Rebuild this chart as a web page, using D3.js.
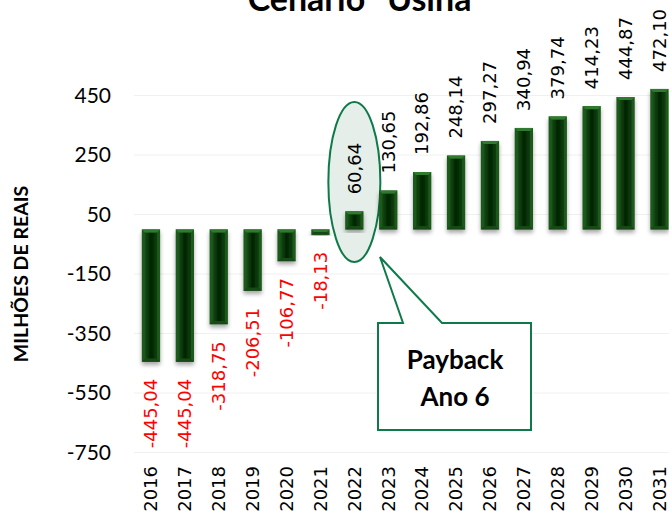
<!DOCTYPE html>
<html>
<head>
<meta charset="utf-8">
<script src="https://cdn.jsdelivr.net/npm/d3@7"></script>
<style>
  body { margin: 0; background: #fff; }
</style>
</head>
<body>
<div id="chart"></div>
<script>
// Data
const years = ['2016', '2017', '2018', '2019', '2020', '2021', '2022', '2023',
  '2024', '2025', '2026', '2027', '2028', '2029', '2030', '2031']
const values = [-445.04, -445.04, -318.75, -206.51, -106.77, -18.13, 60.64, 130.65,
  192.86, 248.14, 297.27, 340.94, 379.74, 414.23, 444.87, 472.10]
const yTicks = [-750, -550, -350, -150, 50, 250, 450]
const title = 'Cenário "Usina"'
const yTitle = 'MILHÕES DE REAIS'
const calloutLines = ['Payback', 'Ano 6']
const paybackYear = '2022'

function draw() {
  const dimensions = {
    width: 669,
    height: 518,
    left: 134,
    step: 33.9,
    top: 95.5,
    bottom: 452.5
  }

  // Brazilian number format, plain hyphen as minus
  const ptBR = d3.formatLocale({ decimal: ',', thousands: '.', grouping: [3], currency: ['R$', ''], minus: '-' })
  const fmt = ptBR.format('.2f')

  const svg = d3.select('#chart')
    .append('svg')
    .attr('width', dimensions.width)
    .attr('height', dimensions.height)

  const defs = svg.append('defs')
  const grad = defs.append('linearGradient').attr('id', 'barGrad')
    .attr('x1', 0).attr('x2', 1).attr('y1', 0).attr('y2', 0)
  grad.append('stop').attr('offset', '0%').attr('stop-color', '#164d16')
  grad.append('stop').attr('offset', '50%').attr('stop-color', '#002400')
  grad.append('stop').attr('offset', '100%').attr('stop-color', '#0f400f')

  const shadow = defs.append('filter').attr('id', 'shadow')
    .attr('x', '-30%').attr('y', '-10%').attr('width', '160%').attr('height', '130%')
  shadow.append('feDropShadow')
    .attr('dx', 0).attr('dy', 3).attr('stdDeviation', 2)
    .attr('flood-color', '#000').attr('flood-opacity', 0.35)

  // Scales
  const xScale = d3.scaleBand()
    .domain(years)
    .range([dimensions.left, dimensions.left + dimensions.step * years.length])
    .paddingInner(0.46)
    .paddingOuter(0.23)

  const yScale = d3.scaleLinear()
    .domain([-750, 450])
    .range([dimensions.bottom, dimensions.top])

  // Gridlines
  svg.append('g')
    .selectAll('line')
    .data(yTicks)
    .join('line')
    .attr('x1', dimensions.left)
    .attr('x2', dimensions.width)
    .attr('y1', d => yScale(d))
    .attr('y2', d => yScale(d))
    .attr('stroke', '#f0f0f0')
    .attr('stroke-width', 1)

  // Y axis
  const yAxis = d3.axisLeft(yScale)
    .tickValues(yTicks)
    .tickSize(0)
    .tickPadding(0)
    .tickFormat(ptBR.format('d'))

  const yAxisGroup = svg.append('g')
    .attr('transform', 'translate(111, 0)')
    .call(yAxis)
  yAxisGroup.select('.domain').remove()
  yAxisGroup.selectAll('text')
    .attr('font-family', 'Lato, sans-serif')
    .attr('font-size', 21)
    .attr('fill', '#000')

  svg.append('text')
    .attr('transform', 'translate(28, 274) rotate(-90)')
    .attr('text-anchor', 'middle')
    .attr('font-family', 'Lato, sans-serif')
    .attr('font-weight', 'bold')
    .attr('font-size', 19.5)
    .text(yTitle)

  // Payback highlight ellipse
  svg.append('ellipse')
    .attr('cx', xScale(paybackYear) + xScale.bandwidth() / 2)
    .attr('cy', 182)
    .attr('rx', 26)
    .attr('ry', 80)
    .attr('fill', '#e6eee9')
    .attr('stroke', '#0e7a4a')
    .attr('stroke-width', 2)

  // Bars
  const bars = svg.append('g')
    .selectAll('g')
    .data(years.map((y, i) => ({ year: y, value: values[i] })))
    .join('g')
    .attr('filter', 'url(#shadow)')

  const bw = xScale.bandwidth()
  const bevel = 3

  bars.append('rect')
    .attr('x', d => xScale(d.year))
    .attr('y', d => Math.min(yScale(0), yScale(d.value)))
    .attr('width', bw)
    .attr('height', d => Math.abs(yScale(d.value) - yScale(0)))
    .attr('fill', '#1d5a1d')

  bars.append('rect')
    .attr('x', d => xScale(d.year) + bevel)
    .attr('y', d => Math.min(yScale(0), yScale(d.value)) + bevel)
    .attr('width', bw - bevel * 2)
    .attr('height', d => Math.max(0, Math.abs(yScale(d.value) - yScale(0)) - bevel * 2))
    .attr('fill', 'url(#barGrad)')

  // top bevel facet
  bars.append('path')
    .attr('d', d => {
      const x = xScale(d.year)
      const top = Math.min(yScale(0), yScale(d.value))
      const h = Math.abs(yScale(d.value) - yScale(0))
      const b = Math.min(bevel, h / 2)
      return `M${x},${top}L${x + bw},${top}L${x + bw - b},${top + b}L${x + b},${top + b}Z`
    })
    .attr('fill', '#2f7a2f')

  // bottom bevel facet
  bars.append('path')
    .attr('d', d => {
      const x = xScale(d.year)
      const bot = Math.max(yScale(0), yScale(d.value))
      const h = Math.abs(yScale(d.value) - yScale(0))
      const b = Math.min(bevel, h / 2)
      return `M${x},${bot}L${x + bw},${bot}L${x + bw - b},${bot - b}L${x + b},${bot - b}Z`
    })
    .attr('fill', '#164816')

  // Data labels
  svg.append('g')
    .selectAll('text')
    .data(years.map((y, i) => ({ year: y, value: values[i] })))
    .join('text')
    .attr('transform', d => {
      const cx = xScale(d.year) + bw / 2
      const yy = d.value < 0 ? yScale(d.value) + 17 : yScale(d.value) - 17
      return `translate(${cx}, ${yy}) rotate(-90)`
    })
    .attr('text-anchor', d => d.value < 0 ? 'end' : 'start')
    .attr('dy', '0.35em')
    .attr('font-family', '"DejaVu Sans", sans-serif')
    .attr('font-size', 18)
    .attr('fill', d => d.value < 0 ? '#ff0000' : '#000')
    .text(d => fmt(d.value))

  // Year labels
  svg.append('g')
    .selectAll('text')
    .data(years)
    .join('text')
    .attr('transform', d => `translate(${xScale(d) + bw / 2}, 466) rotate(-90)`)
    .attr('text-anchor', 'end')
    .attr('dy', '0.35em')
    .attr('font-family', '"DejaVu Sans", sans-serif')
    .attr('font-size', 18)
    .attr('fill', '#000')
    .text(d => d)

  // Callout
  svg.append('path')
    .attr('d', 'M378,323L403,323L380,257L442,323L531,323L531,430L378,430Z')
    .attr('fill', '#fff')
    .attr('stroke', '#0e7a4a')
    .attr('stroke-width', 2)

  svg.append('g')
    .selectAll('text')
    .data(calloutLines)
    .join('text')
    .attr('x', 455)
    .attr('y', (d, i) => 369 + i * 37)
    .attr('text-anchor', 'middle')
    .attr('font-family', 'Lato, sans-serif')
    .attr('font-weight', 'bold')
    .attr('font-size', 26)
    .text(d => d)

  // Title (clipped at the top edge, as in the original)
  svg.append('text')
    .attr('x', 366)
    .attr('y', 11)
    .attr('text-anchor', 'middle')
    .attr('font-family', 'Lato, sans-serif')
    .attr('font-weight', 'bold')
    .attr('font-size', 34)
    .text(title)
}

draw()
</script>
</body>
</html>
